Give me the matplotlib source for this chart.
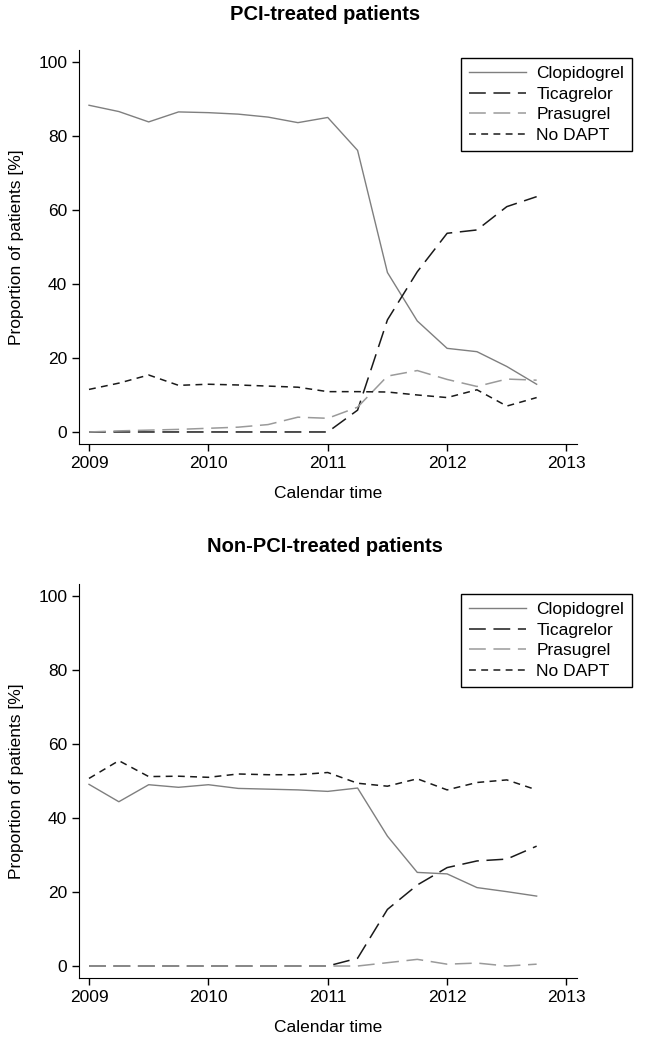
import matplotlib.pyplot as plt

# Quarterly calendar time points.
quarters = [2009.0, 2009.25, 2009.5, 2009.75, 2010.0, 2010.25, 2010.5, 2010.75,
            2011.0, 2011.25, 2011.5, 2011.75, 2012.0, 2012.25, 2012.5, 2012.75]

# PCI-treated patients (%).
pciClopidogrel = [88.3, 86.6, 83.8, 86.5, 86.3, 85.9, 85.1, 83.6,
                  85.0, 76.1, 43.1, 30.0, 22.6, 21.7, 17.7, 12.9]
pciTicagrelor = [0, 0, 0, 0, 0, 0, 0, 0,
                 0, 5.9, 30.3, 43.3, 53.7, 54.6, 60.9, 63.6]
pciPrasugrel = [0, 0.3, 0.5, 0.7, 1.0, 1.3, 2.0, 4.0,
                3.7, 6.7, 15.1, 16.6, 14.2, 12.3, 14.3, 14.0]
pciNoDapt = [11.5, 13.2, 15.4, 12.6, 12.9, 12.7, 12.4, 12.1,
             10.9, 10.9, 10.8, 10.0, 9.3, 11.4, 7.0, 9.3]

# Non-PCI-treated patients (%).
nonClopidogrel = [49.1, 44.4, 49.0, 48.3, 49.0, 48.0, 47.8, 47.6,
                  47.2, 48.1, 35.1, 25.3, 24.9, 21.2, 20.1, 18.9]
nonTicagrelor = [0, 0, 0, 0, 0, 0, 0, 0,
                 0, 2.1, 15.3, 21.9, 26.6, 28.4, 28.9, 32.4]
nonPrasugrel = [0, 0, 0, 0, 0, 0, 0, 0,
                0, 0, 0.9, 1.8, 0.5, 0.8, 0, 0.5]
nonNoDapt = [50.7, 55.5, 51.2, 51.3, 51.0, 51.9, 51.7, 51.7,
             52.3, 49.4, 48.6, 50.6, 47.6, 49.6, 50.3, 47.6]

drugNames = ['Clopidogrel', 'Ticagrelor', 'Prasugrel', 'No DAPT']
xTicks = [2009, 2010, 2011, 2012, 2013]
yTicks = [0, 20, 40, 60, 80, 100]

plt.rcParams['font.family'] = ['Liberation Sans', 'DejaVu Sans']

styles = [dict(color='#7f7f7f', linestyle='-', linewidth=1.0),
          dict(color='#1a1a1a', linestyle=(0, (11, 5)), linewidth=1.1),
          dict(color='#9a9a9a', linestyle=(0, (11, 5)), linewidth=1.1),
          dict(color='#1a1a1a', linestyle=(0, (4.5, 3.5)), linewidth=1.1)]


def drawPanel(fig, rect, title, series, legTop, titleY, xlabY):
    ax = fig.add_axes(rect)
    for vals, name, st in zip(series, drugNames, styles):
        ax.plot(quarters, vals, label=name, **st)
    ax.set_xlim(2008.916, 2013.087)
    ax.set_ylim(-3.24, 103.24)
    ax.set_xticks(xTicks)
    ax.set_yticks(yTicks)
    ax.spines['top'].set_visible(False)
    ax.spines['right'].set_visible(False)
    ax.tick_params(direction='out', length=5, width=1, labelsize=12.5,
                   colors='black')
    ax.set_ylabel('Proportion of patients [%]', fontsize=12.5, labelpad=10)
    fig.text(0.5, titleY, title, ha='center', va='center', fontsize=14.5,
             fontweight='bold')
    fig.text(rect[0] + rect[2]/2, xlabY, 'Calendar time', ha='center',
             va='center', fontsize=12.5)
    leg = ax.legend(loc='upper right', bbox_to_anchor=(0.9723, legTop),
                    bbox_transform=fig.transFigure, borderaxespad=0,
                    fontsize=12.5, handlelength=3.3, labelspacing=0.32,
                    fancybox=False, framealpha=1, edgecolor='black',
                    borderpad=0.45, handletextpad=0.6)
    leg.get_frame().set_linewidth(1.0)
    return ax


fig = plt.figure(figsize=(6.5, 10.39), dpi=100)

drawPanel(fig, [0.1215, 0.5727, 0.766, 0.3792], 'PCI-treated patients',
          [pciClopidogrel, pciTicagrelor, pciPrasugrel, pciNoDapt],
          0.9442, 1 - 15/1039, 1 - 494/1039)
drawPanel(fig, [0.1215, 0.0587, 0.766, 0.3792], 'Non-PCI-treated patients',
          [nonClopidogrel, nonTicagrelor, nonPrasugrel, nonNoDapt],
          0.4283, 1 - 546/1039, 1 - 1028/1039)

fig.savefig('out.png', dpi=100)
